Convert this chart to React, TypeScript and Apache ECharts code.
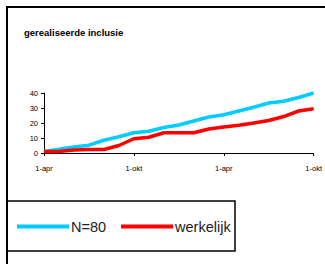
import React, { useEffect, useRef } from "react";
import * as echarts from "echarts";

const months = [0, 1, 2, 3, 4, 5, 6, 7, 8, 9, 10, 11, 12, 13, 14, 15, 16, 17, 18];
const planned = [1, 2.5, 4, 5.2, 8.5, 10.8, 13.5, 14.5, 17, 18.7, 21.3, 24, 25.5, 28, 30.5, 33.3, 34.5, 37, 40];
const actual = [1, 1, 2, 2.3, 2.3, 5, 9.5, 10.5, 13.5, 13.5, 13.5, 16, 17.3, 18.5, 20, 21.7, 24.3, 28, 29.5];
const xTickLabels: Record<number, string> = { 0: "1-apr", 6: "1-okt", 12: "1-apr", 18: "1-okt" };
const seriesNames = ["N=80", "werkelijk"];
const title = "gerealiseerde inclusie";

export default function App() {
  const ref = useRef<HTMLDivElement>(null);
  useEffect(() => {
    if (!ref.current) return;
    const chart = echarts.init(ref.current, undefined, { renderer: "svg" });
    const font = "Liberation Sans, Arial, sans-serif";
    chart.setOption({
      animation: false,
      backgroundColor: "#ffffff",
      title: {
        text: title,
        left: 19,
        top: 22,
        textStyle: { fontFamily: font, fontSize: 9.5, fontWeight: "bold", color: "#000" },
      },
      grid: { left: 44, right: 10, top: 93, bottom: 111, containLabel: false },
      xAxis: {
        type: "value",
        min: 0,
        max: 18,
        interval: 6,
        splitLine: { show: false },
        axisLine: { lineStyle: { color: "#000", width: 1 } },
        axisTick: { show: true, length: 3, lineStyle: { color: "#000" } },
        axisLabel: {
          margin: 11,
          fontFamily: font,
          fontSize: 7.5,
          color: "#000",
          formatter: (v: number) => xTickLabels[v] ?? "",
        },
      },
      yAxis: {
        type: "value",
        min: 0,
        max: 40,
        interval: 10,
        splitLine: { show: false },
        axisLine: { show: true, lineStyle: { color: "#000", width: 1 } },
        axisTick: { show: true, length: 3, lineStyle: { color: "#000" } },
        axisLabel: { margin: 6, fontFamily: font, fontSize: 7.5, color: "#000" },
      },
      legend: {
        left: 12,
        top: 214,
        itemWidth: 52,
        itemHeight: 4,
        itemGap: 15,
        icon: "rect",
        textStyle: { fontFamily: font, fontSize: 14.5, color: "#222", padding: [0, 0, 0, -3] },
        data: seriesNames,
      },
      graphic: [
        {
          type: "rect",
          shape: { x: 7, y: 7, width: 400, height: 400 },
          style: { fill: "none", stroke: "#000", lineWidth: 2 },
          silent: true,
          z: -1,
        },
        {
          type: "rect",
          shape: { x: 7, y: 201, width: 228, height: 50 },
          style: { fill: "none", stroke: "#000", lineWidth: 1.5 },
          silent: true,
        },
      ],
      series: [
        {
          name: seriesNames[0],
          type: "line",
          data: months.map((m, i) => [m, planned[i]]),
          showSymbol: false,
          symbol: "none",
          lineStyle: { color: "#00CCFF", width: 3.5 },
          itemStyle: { color: "#00CCFF" },
        },
        {
          name: seriesNames[1],
          type: "line",
          data: months.map((m, i) => [m, actual[i]]),
          showSymbol: false,
          symbol: "none",
          lineStyle: { color: "#FF0000", width: 3.5 },
          itemStyle: { color: "#FF0000" },
        },
      ],
    });
    return () => chart.dispose();
  }, []);
  return (
    <div
      ref={ref}
      style={{ position: "fixed", left: 0, top: 0, width: 325, height: 264 }}
    />
  );
}
